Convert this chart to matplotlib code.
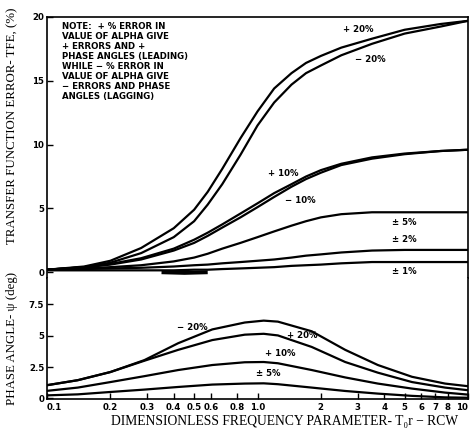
import matplotlib
matplotlib.use("Agg")
import matplotlib.pyplot as plt
from matplotlib.ticker import FixedLocator, NullLocator

# ---- data ----
# upper panel: transfer function error TFE (%) vs dimensionless frequency
x_tfe = [0.1, 0.15, 0.2, 0.28, 0.4, 0.5, 0.58, 0.68, 0.83, 1.0,
         1.2, 1.45, 1.7, 2.0, 2.5, 3.5, 5.0, 7.4, 10]
tfe_p20 = [0.2, 0.45, 0.9, 1.9, 3.45, 4.9, 6.3, 8.1, 10.5, 12.6,
           14.4, 15.6, 16.4, 16.95, 17.6, 18.3, 19.0, 19.45, 19.7]
tfe_m20 = [0.2, 0.4, 0.75, 1.5, 2.75, 4.0, 5.3, 6.9, 9.2, 11.5,
           13.3, 14.7, 15.6, 16.2, 17.0, 17.9, 18.7, 19.25, 19.7]
tfe_p10 = [0.2, 0.4, 0.65, 1.1, 1.85, 2.55, 3.1, 3.75, 4.6, 5.4,
           6.2, 6.9, 7.5, 8.0, 8.5, 9.0, 9.3, 9.5, 9.6]
tfe_m10 = [0.2, 0.38, 0.6, 1.0, 1.7, 2.3, 2.85, 3.5, 4.3, 5.1,
           5.9, 6.7, 7.3, 7.8, 8.4, 8.9, 9.25, 9.5, 9.6]
tfe_5 = [0.2, 0.3, 0.4, 0.55, 0.85, 1.15, 1.45, 1.85, 2.3, 2.75,
         3.2, 3.65, 4.0, 4.3, 4.55, 4.7, 4.7, 4.7, 4.7]
tfe_2 = [0.2, 0.25, 0.3, 0.35, 0.45, 0.55, 0.6, 0.7, 0.8, 0.9,
         1.0, 1.15, 1.3, 1.4, 1.55, 1.7, 1.75, 1.75, 1.75]
tfe_1 = [0.15, 0.15, 0.15, 0.15, 0.15, 0.2, 0.2, 0.25, 0.3, 0.35,
         0.4, 0.5, 0.55, 0.6, 0.7, 0.8, 0.8, 0.8, 0.8]
# short heavy stroke on the zero line (overlapping small negative errors)
x_zero = [0.35, 0.45, 0.58]
tfe_zero = [0.0, -0.05, 0.0]

# lower panel: phase angle (deg)
x_ph = [0.1, 0.14, 0.2, 0.29, 0.42, 0.61, 0.87, 1.07, 1.25, 1.81,
        2.61, 3.73, 5.42, 7.78, 10]
ph_m20 = [1.05, 1.45, 2.1, 3.05, 4.4, 5.5, 6.05, 6.2, 6.12, 5.35,
          3.87, 2.66, 1.72, 1.18, 0.97]
ph_p20 = [1.05, 1.45, 2.1, 3.0, 3.87, 4.65, 5.08, 5.15, 5.02, 4.1,
          2.9, 2.05, 1.3, 0.86, 0.65]
ph_p10 = [0.6, 0.86, 1.3, 1.77, 2.26, 2.66, 2.88, 2.9, 2.8, 2.26,
          1.67, 1.18, 0.78, 0.46, 0.3]
ph_p5 = [0.24, 0.32, 0.51, 0.7, 0.91, 1.1, 1.18, 1.2, 1.13, 0.86,
         0.59, 0.38, 0.2, 0.08, 0.05]

xticks = [0.1, 0.2, 0.3, 0.4, 0.5, 0.6, 0.8, 1.0, 2, 3, 4, 5, 6, 7, 8, 10]
xticklabels = ["0.1", "0.2", "0.3", "0.4", "0.5", "0.6", "0.8", "1.0",
               "2", "3", "4", "5", "6", "7", "8", "10"]
tfe_ticks = [0, 5, 10, 15, 20]
ph_ticks = [0, 2.5, 5, 7.5]
ph_ticklabels = ["0", "2.5", "5", "7.5"]

note = ("NOTE:  + % ERROR IN\nVALUE OF ALPHA GIVE\n+ ERRORS AND +\n"
        "PHASE ANGLES (LEADING)\nWHILE \u2212 % ERROR IN\nVALUE OF ALPHA GIVE\n"
        "\u2212 ERRORS AND PHASE\nANGLES (LAGGING)")

W, H = 470, 444
fig = plt.figure(figsize=(4.7, 4.44), dpi=100)

def px(x0, y0, x1, y1):
    return [x0 / W, 1 - y1 / H, (x1 - x0) / W, (y1 - y0) / H]

ax1 = fig.add_axes(px(47, 17, 468, 278))
ax2 = fig.add_axes(px(47, 278, 468, 399))

lw = 1.6
for ys in [tfe_p20, tfe_m20, tfe_p10, tfe_m10, tfe_5, tfe_2, tfe_1]:
    ax1.plot(x_tfe, ys, color="black", lw=lw, solid_capstyle="butt")
ax1.plot(x_zero, tfe_zero, color="black", lw=2.8, solid_capstyle="butt")
for ys in [ph_m20, ph_p20, ph_p10, ph_p5]:
    ax2.plot(x_ph, ys, color="black", lw=lw, solid_capstyle="butt")

tick_font = dict(fontsize=6.2, fontweight="bold", family="DejaVu Sans")

for ax in (ax1, ax2):
    ax.set_xscale("log")
    ax.set_xlim(0.1, 10)
    ax.tick_params(direction="in", length=4, width=1, pad=2)
    for s in ax.spines.values():
        s.set_linewidth(1.2)

ax1.set_ylim(-0.45, 20)
ax1.spines["bottom"].set_visible(False)
ax1.xaxis.set_major_locator(NullLocator())
ax1.xaxis.set_minor_locator(NullLocator())
ax1.set_yticks(tfe_ticks)
ax1.set_yticklabels([str(t) for t in tfe_ticks], **tick_font)

ax2.set_ylim(-0.05, 9.6)
ax2.spines["top"].set_visible(False)
ax2.xaxis.set_major_locator(FixedLocator(xticks))
ax2.xaxis.set_minor_locator(NullLocator())
ax2.set_xticklabels(xticklabels, **tick_font)
ax2.tick_params(axis="x", pad=3)
ax2.set_yticks(ph_ticks)
ax2.set_yticklabels(ph_ticklabels, **tick_font)
xl = ax2.get_xticklabels()
xl[0].set_ha("left")
xl[-1].set_ha("right")

# annotations
lab = dict(fontsize=6.2, fontweight="bold", family="DejaVu Sans")
fig.text(62 / W, 1 - 22 / H, note, va="top", ha="left", linespacing=1.15, **lab)

def put(x, y, s):
    fig.text(x / W, 1 - y / H, s, va="center", ha="left", **lab)

put(343, 29, "+ 20%")
put(355, 60, "\u2212 20%")
put(268, 174, "+ 10%")
put(285, 200, "\u2212 10%")
put(392, 222, "\u00b1 5%")
put(392, 239, "\u00b1 2%")
put(392, 271, "\u00b1 1%")
put(177, 327, "\u2212 20%")
put(287, 335, "+ 20%")
put(265, 354, "+ 10%")
put(256, 373, "\u00b1 5%")

serif = ["Liberation Serif", "DejaVu Serif"]
fig.text(12 / W, 1 - 126 / H, "TRANSFER FUNCTION ERROR- TFE, (%)", rotation=90,
         ha="center", va="center", fontsize=9.3, family=serif)
fig.text(12 / W, 1 - 338 / H, "PHASE ANGLE- \u03c8 (deg)", rotation=90,
         ha="center", va="center", fontsize=9.3, family=serif)
fig.text(285 / W, 1 - 421 / H, "DIMENSIONLESS FREQUENCY PARAMETER- T\u2080r \u2212 RCW",
         ha="center", va="center", fontsize=9.8, family=serif)

fig.savefig("out.png", dpi=100)
